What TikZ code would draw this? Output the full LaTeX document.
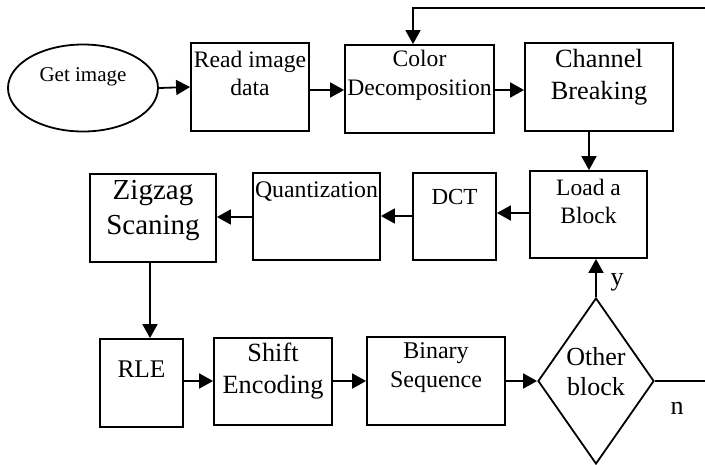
\documentclass[tikz,border=0pt]{standalone}
\usepackage{fontspec}
\setmainfont{Liberation Serif}
\usetikzlibrary{shapes.geometric,arrows.meta}
\tikzset{
  box/.style={draw, line width=1.8pt, rectangle, inner sep=0pt},
  txt/.style={align=center, inner sep=0pt},
  arr/.style={line width=1.8pt, -{Triangle[length=14pt,width=15pt]}},
  ln/.style={line width=1.8pt},
}
\newcommand{\fs}[2]{\fontsize{#1}{#2}\selectfont}
\begin{document}
\begin{tikzpicture}[x=1pt,y=-1pt]
\useasboundingbox (0,0) rectangle (705,464);
% boxes
\node[draw, line width=1.8pt, ellipse, minimum width=150pt, minimum height=87pt, inner sep=0pt] (get) at (83,88) {};
\node[txt, font=\fs{21}{25}] (getT) at (83,77) {Get image};
\node[box, minimum width=118pt, minimum height=88pt] (read) at (250,87) {};
\node[txt, font=\fs{23.6}{28}] (readT) at (250,73) {Read image\\data};
\node[box, minimum width=149pt, minimum height=88pt] (color) at (419.5,89) {};
\node[txt, font=\fs{23.6}{29}] (colorT) at (419.5,75.5) {Color\\Decomposition};
\node[box, minimum width=148pt, minimum height=88pt] (chan) at (599,87) {};
\node[txt, font=\fs{26.3}{32}] (chanT) at (599,77) {Channel\\Breaking};
\node[box, minimum width=117pt, minimum height=87pt] (load) at (588.5,214.5) {};
\node[txt, font=\fs{23.5}{28}] (loadT) at (588.5,201) {Load a\\Block};
\node[box, minimum width=83pt, minimum height=87pt] (dct) at (454.5,216.5) {};
\node[txt, font=\fs{23}{28}] (dctT) at (454.5,197) {DCT};
\node[box, minimum width=127pt, minimum height=87pt] (quant) at (316.5,216.5) {};
\node[txt, font=\fs{23.8}{28}] (quantT) at (316.5,192) {Quantization};
\node[box, minimum width=126pt, minimum height=88pt] (zig) at (153,218) {};
\node[txt, font=\fs{29}{35}] (zigT) at (153,210.5) {Zigzag\\Scaning};
\node[box, minimum width=83pt, minimum height=88pt] (rle) at (141.5,383) {};
\node[txt, font=\fs{25.4}{30}] (rleT) at (141.5,369) {RLE};
\node[box, minimum width=118pt, minimum height=87pt] (shift) at (273,381.5) {};
\node[txt, font=\fs{26.3}{32}] (shiftT) at (273,371) {Shift\\Encoding};
\node[box, minimum width=138pt, minimum height=88pt] (bin) at (436,381) {};
\node[txt, font=\fs{24}{29}] (binT) at (436,367.5) {Binary\\Sequence};
\node[draw, line width=1.8pt, diamond, minimum width=116pt, minimum height=166pt, inner sep=0pt] (dia) at (596,381) {};
\node[txt, font=\fs{26}{30}] (diaT) at (596,372) {Other\\block};
\node[txt, font=\fs{26}{30}] (yL) at (617,282) {y};
\node[txt, font=\fs{26}{30}] (nL) at (677,408) {n};
\coordinate (fbR) at (706,8);
\coordinate (nR) at (706,381);
% connectors
\draw[arr] (get.east) -- (read.west);
\draw[arr] (read.east |- 0,90) -- (color.west |- 0,90);
\draw[arr] (color.east |- 0,90) -- (chan.west |- 0,90);
\draw[arr] (fbR) -- (413,8) -- (color.north -| 413,0);
\draw[arr] (chan.south -| 589,0) -- (load.north -| 589,0);
\draw[arr] (load.west |- 0,213) -- (dct.east |- 0,213);
\draw[arr] (dct.west |- 0,216) -- (quant.east |- 0,216);
\draw[arr] (quant.west |- 0,217) -- (zig.east |- 0,217);
\draw[arr] (zig.south -| 150,0) -- (rle.north -| 150,0);
\draw[arr] (rle.east |- 0,381) -- (shift.west |- 0,381);
\draw[arr] (shift.east |- 0,381) -- (bin.west |- 0,381);
\draw[arr] (bin.east |- 0,381) -- (dia.west);
\draw[arr] (dia.north) -- (load.south -| dia.north);
\draw[ln] (dia.east) -- (nR);
\end{tikzpicture}
\end{document}
